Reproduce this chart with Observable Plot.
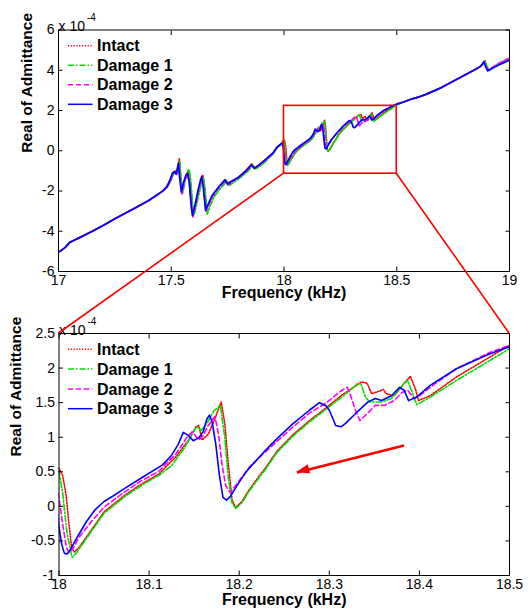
<!DOCTYPE html>
<html><head><meta charset="utf-8">
<script src="https://cdn.jsdelivr.net/npm/d3@7"></script>
<script src="https://cdn.jsdelivr.net/npm/@observablehq/plot@0.6"></script>
<style>
html,body{margin:0;padding:0;background:#fff;}
#wrap{position:relative;width:531px;height:610px;font-family:"Liberation Sans",Arial,sans-serif;}
#wrap svg{position:absolute;left:0;overflow:visible;}
</style></head><body><div id="wrap"></div>
<script>
// ---------- data (frequency kHz, real admittance x1e-4) ----------
const seriesNames = ["Intact", "Damage 1", "Damage 2", "Damage 3"];
const xTicksTop = [17, 17.5, 18, 18.5, 19];
const yTicksTop = [-6, -4, -2, 0, 2, 4, 6];
const xTicksBottom = [18, 18.1, 18.2, 18.3, 18.4, 18.5];
const yTicksBottom = [-1, -0.5, 0, 0.5, 1, 1.5, 2, 2.5];

// shared smooth parts
const lowF = [17.0, 17.03, 17.05, 17.06, 17.1, 17.15, 17.2, 17.25, 17.3, 17.35, 17.4, 17.43, 17.46];
const lowV = [-5.05, -4.8, -4.55, -4.5, -4.28, -4.0, -3.7, -3.38, -3.08, -2.78, -2.47, -2.25, -2.02];
const highF = [18.53, 18.56, 18.6, 18.63, 18.65, 18.7, 18.75, 18.8, 18.85, 18.87];
const highV = [2.42, 2.55, 2.68, 2.8, 2.9, 3.15, 3.45, 3.75, 4.05, 4.18];

const intactMid = [[17.48,-1.8],[17.495,-1.45],[17.507,-1.1],[17.517,-1.0],[17.524,-1.12],[17.536,-0.4],[17.541,-1.2],[17.548,-2.0],[17.558,-1.5],[17.57,-1.15],[17.576,-1.05],[17.584,-1.6],[17.592,-2.7],[17.598,-3.15],[17.61,-2.6],[17.625,-1.8],[17.635,-1.3],[17.64,-1.2],[17.647,-1.8],[17.656,-2.9],[17.666,-2.65],[17.684,-2.2],[17.7,-1.95],[17.72,-1.68],[17.74,-1.42],[17.752,-1.6],[17.77,-1.5],[17.8,-1.3],[17.83,-1.0],[17.857,-0.65],[17.87,-0.85],[17.89,-0.7],[17.92,-0.43],[17.95,-0.13],[17.97,0.17],[17.985,0.3],
 [17.999,0.55],[18.0,0.55],[18.004,0.45],[18.008,0.15],[18.011,-0.25],[18.014,-0.6],[18.017,-0.66],[18.022,-0.6],[18.036,-0.34],[18.05,-0.08],[18.073,0.16],[18.09,0.31],[18.111,0.47],[18.13,0.72],[18.145,0.98],[18.152,1.15],[18.155,1.17],[18.159,0.96],[18.166,1.05],[18.174,1.3],[18.18,1.51],[18.184,1.2],[18.188,0.6],[18.192,0.1],[18.196,-0.02],[18.203,0.07],[18.21,0.22],[18.22,0.4],[18.23,0.57],[18.242,0.8],[18.26,1.04],[18.278,1.24],[18.296,1.42],[18.314,1.61],[18.336,1.8],[18.342,1.78],[18.347,1.63],[18.354,1.66],[18.36,1.69],[18.363,1.63],[18.372,1.6],[18.383,1.78],[18.39,1.88],[18.396,1.68],[18.399,1.53],[18.412,1.6],[18.441,1.87],[18.477,2.15],[18.5,2.33]];
const intactEnd = [[18.88,4.3],[18.89,4.46],[18.897,4.22],[18.907,3.98],[18.922,4.1],[18.95,4.3],[18.98,4.48],[19.0,4.56]];

const damage1Mid = [[17.48,-1.85],[17.498,-1.5],[17.51,-1.15],[17.52,-1.05],[17.527,-1.18],[17.538,-0.55],[17.543,-1.3],[17.551,-2.1],[17.562,-1.5],[17.574,-1.0],[17.579,-0.92],[17.587,-1.5],[17.595,-2.7],[17.601,-3.2],[17.612,-2.7],[17.628,-1.9],[17.638,-1.45],[17.643,-1.38],[17.65,-1.9],[17.66,-3.15],[17.67,-2.8],[17.69,-2.3],[17.71,-1.98],[17.73,-1.72],[17.746,-1.5],[17.758,-1.72],[17.78,-1.55],[17.81,-1.3],[17.84,-1.02],[17.862,-0.72],[17.875,-0.9],[17.9,-0.72],[17.93,-0.4],[17.955,-0.12],[17.97,0.15],[17.985,0.28],
 [17.998,0.5],[18.0,0.5],[18.004,0.2],[18.009,-0.4],[18.0145,-0.74],[18.02,-0.66],[18.036,-0.36],[18.05,-0.1],[18.073,0.14],[18.09,0.29],[18.111,0.45],[18.125,0.59],[18.14,0.86],[18.149,1.08],[18.153,1.15],[18.158,1.1],[18.165,1.22],[18.172,1.38],[18.179,1.46],[18.184,1.0],[18.188,0.4],[18.192,0.05],[18.196,-0.03],[18.203,0.05],[18.21,0.2],[18.22,0.38],[18.23,0.55],[18.242,0.78],[18.26,1.02],[18.278,1.22],[18.296,1.4],[18.314,1.58],[18.331,1.77],[18.335,1.78],[18.34,1.58],[18.345,1.51],[18.358,1.51],[18.369,1.56],[18.383,1.78],[18.387,1.82],[18.394,1.58],[18.397,1.47],[18.412,1.58],[18.441,1.82],[18.477,2.1],[18.5,2.28]];
const damage1End = [[18.882,4.3],[18.892,4.48],[18.899,4.25],[18.909,3.98],[18.925,4.1],[18.95,4.3],[18.98,4.48],[19.0,4.58]];

const damage2Mid = [[17.48,-1.85],[17.497,-1.5],[17.507,-1.15],[17.517,-1.08],[17.524,-1.18],[17.534,-0.7],[17.539,-1.4],[17.547,-2.15],[17.557,-1.6],[17.567,-1.25],[17.574,-1.18],[17.582,-1.7],[17.59,-2.8],[17.596,-3.28],[17.607,-2.75],[17.622,-1.95],[17.632,-1.5],[17.637,-1.4],[17.644,-1.9],[17.654,-3.0],[17.664,-2.75],[17.682,-2.3],[17.7,-2.0],[17.72,-1.72],[17.74,-1.5],[17.752,-1.7],[17.77,-1.55],[17.8,-1.33],[17.83,-1.05],[17.857,-0.73],[17.87,-0.9],[17.89,-0.72],[17.92,-0.45],[17.95,-0.15],[17.97,0.18],[17.985,0.3],
 [17.995,0.42],[17.998,0.3],[18.0,0.12],[18.004,-0.25],[18.008,-0.58],[18.011,-0.67],[18.016,-0.6],[18.022,-0.45],[18.036,-0.22],[18.05,-0.01],[18.073,0.21],[18.09,0.36],[18.111,0.51],[18.13,0.76],[18.142,1.0],[18.148,1.08],[18.155,0.96],[18.16,1.02],[18.165,1.16],[18.173,1.3],[18.177,1.05],[18.181,0.6],[18.185,0.3],[18.19,0.2],[18.196,0.3],[18.212,0.58],[18.23,0.8],[18.242,0.94],[18.26,1.15],[18.278,1.35],[18.296,1.49],[18.314,1.68],[18.32,1.72],[18.323,1.63],[18.329,1.39],[18.334,1.24],[18.342,1.34],[18.351,1.46],[18.361,1.46],[18.372,1.53],[18.381,1.65],[18.387,1.68],[18.394,1.56],[18.401,1.61],[18.416,1.76],[18.441,1.99],[18.477,2.22],[18.5,2.33]];
const damage2End = [[18.88,4.3],[18.888,4.44],[18.895,4.22],[18.905,4.0],[18.92,4.12],[18.95,4.32],[18.98,4.5],[19.0,4.6]];

const damage3Mid = [[17.48,-1.8],[17.495,-1.45],[17.505,-1.12],[17.515,-1.05],[17.522,-1.15],[17.532,-0.62],[17.537,-1.3],[17.545,-2.05],[17.555,-1.55],[17.565,-1.2],[17.572,-1.12],[17.58,-1.6],[17.588,-2.7],[17.594,-3.22],[17.605,-2.7],[17.62,-1.9],[17.63,-1.45],[17.635,-1.3],[17.642,-1.8],[17.652,-2.95],[17.662,-2.7],[17.68,-2.25],[17.7,-1.95],[17.72,-1.68],[17.738,-1.45],[17.75,-1.65],[17.77,-1.5],[17.8,-1.3],[17.83,-1.02],[17.855,-0.7],[17.868,-0.87],[17.89,-0.7],[17.92,-0.42],[17.95,-0.12],[17.97,0.2],[17.985,0.33],[17.992,0.38],[17.997,0.1],
 [18.0,-0.3],[18.003,-0.55],[18.006,-0.68],[18.009,-0.69],[18.013,-0.62],[18.02,-0.45],[18.03,-0.23],[18.04,-0.05],[18.05,0.07],[18.06,0.15],[18.073,0.26],[18.09,0.4],[18.105,0.52],[18.115,0.6],[18.125,0.74],[18.132,0.89],[18.138,1.07],[18.143,1.03],[18.149,0.95],[18.155,0.99],[18.16,1.08],[18.164,1.26],[18.167,1.32],[18.17,1.22],[18.174,0.9],[18.178,0.45],[18.182,0.13],[18.186,0.09],[18.19,0.14],[18.2,0.35],[18.209,0.52],[18.227,0.78],[18.242,0.98],[18.26,1.2],[18.278,1.39],[18.289,1.5],[18.296,1.46],[18.3,1.39],[18.304,1.27],[18.307,1.17],[18.313,1.15],[18.318,1.2],[18.329,1.34],[18.343,1.51],[18.351,1.56],[18.358,1.53],[18.369,1.6],[18.378,1.72],[18.383,1.68],[18.388,1.53],[18.397,1.58],[18.412,1.75],[18.441,1.99],[18.477,2.2],[18.5,2.31]];
const damage3End = [[18.878,4.28],[18.886,4.42],[18.893,4.2],[18.903,3.97],[18.92,4.08],[18.95,4.25],[18.98,4.4],[19.0,4.5]];

// zoom window drawn on the upper chart
const zoomBox = {x1: 18, x2: 18.5, y1: -1.14, y2: 2.23};
// arrow annotation in the lower chart
const arrowSpec = {x1: 18.383, y1: 0.88, x2: 18.264, y2: 0.49};

// ---------- build ----------
const mids = [intactMid, damage1Mid, damage2Mid, damage3Mid];
const ends = [intactEnd, damage1End, damage2End, damage3End];
const colors = ["#ff0000", "#00dd00", "#ff00ff", "#0000ff"];
const dashes = ["1.2,1.6", "6,2,1.5,2", "5,3", null];

const rows = [];
seriesNames.forEach((name, i) => {
  lowF.forEach((f, j) => rows.push({series: name, f, v: lowV[j]}));
  mids[i].forEach(([f, v]) => rows.push({series: name, f, v}));
  highF.forEach((f, j) => rows.push({series: name, f, v: highV[j]}));
  ends[i].forEach(([f, v]) => rows.push({series: name, f, v}));
});

const FONT = '"Liberation Sans", Arial, Helvetica, sans-serif';
const fmt = d => String(d);
const TS = -4.5, TP = 8.5;

function seriesMarks(data, sw) {
  return seriesNames.map((name, i) => Plot.line(data.filter(d => d.series === name), {
    x: "f", y: "v", stroke: colors[i], strokeWidth: sw,
    strokeDasharray: dashes[i] || undefined, clip: true
  }));
}
function axes(xt, yt) {
  return [
    Plot.axisX(xt, {anchor: "bottom", tickSize: TS, tickPadding: TP, tickFormat: fmt, label: null, fontSize: 14}),
    Plot.axisX(xt, {anchor: "top", tickSize: TS, tickFormat: () => "", label: null}),
    Plot.axisY(yt, {anchor: "left", tickSize: TS, tickPadding: TP, tickFormat: fmt, label: null, fontSize: 14}),
    Plot.axisY(yt, {anchor: "right", tickSize: TS, tickFormat: () => "", label: null})
  ];
}
function labels(dxY, dyX) {
  return [
    Plot.text(["Frequency (kHz)"], {frameAnchor: "bottom", dy: dyX, fontWeight: "bold", fontSize: 16, fill: "#000"}),
    Plot.text(["Real of Admittance"], {frameAnchor: "left", dx: dxY, dy: 2, rotate: -90, fontWeight: "bold", fontSize: 15.5, fill: "#000"}),
    Plot.text(["x 10"], {frameAnchor: "top-left", textAnchor: "start", dy: -8.5, fontSize: 14, fill: "#000"}),
    Plot.text(["-4"], {frameAnchor: "top-left", textAnchor: "start", dx: 28.5, dy: -16, fontSize: 10, fill: "#000"})
  ];
}

const topPlot = Plot.plot({
  width: 531, height: 300,
  marginLeft: 58, marginRight: 22, marginTop: 29.5, marginBottom: 29,
  x: {domain: [17, 19]},
  y: {domain: [-6, 6]},
  style: {fontFamily: FONT, fontSize: "14px", background: "transparent", overflow: "visible", color: "#000"},
  marks: [
    ...seriesMarks(rows, 1.7),
    Plot.rect([zoomBox], {x1: "x1", x2: "x2", y1: "y1", y2: "y2", fill: "none", stroke: "#ff0000", strokeWidth: 1.6}),
    Plot.frame({stroke: "#000", strokeWidth: 1}),
    ...axes(xTicksTop, yTicksTop),
    ...labels(-31, 26)
  ]
});

const botRows = rows.filter(d => d.f >= 17.99 && d.f <= 18.51);
const botPlot = Plot.plot({
  width: 531, height: 310,
  marginLeft: 58.5, marginRight: 22, marginTop: 33, marginBottom: 35,
  x: {domain: [18, 18.5]},
  y: {domain: [-1, 2.5]},
  style: {fontFamily: FONT, fontSize: "14px", background: "transparent", overflow: "visible", color: "#000"},
  marks: [
    ...seriesMarks(botRows, 1.6),
    Plot.link([arrowSpec], {x1: "x1", y1: "y1", x2: "x2", y2: "y2", stroke: "#ff0000", strokeWidth: 2.5}),
    Plot.frame({stroke: "#000", strokeWidth: 1}),
    ...axes(xTicksBottom, yTicksBottom),
    ...labels(-42.5, 29)
  ]
});

const wrap = document.getElementById("wrap");
topPlot.style.top = "0px";
botPlot.style.top = "300px";
wrap.appendChild(topPlot);
wrap.appendChild(botPlot);

// legends inside each axes
function addLegend(svg, firstY, step) {
  const g = d3.select(svg).append("g");
  seriesNames.forEach((name, i) => {
    const y = firstY + i * step;
    const ln = g.append("line").attr("x1", 68).attr("x2", 92.5).attr("y1", y).attr("y2", y)
      .attr("stroke", colors[i]).attr("stroke-width", 1.5);
    if (dashes[i]) ln.attr("stroke-dasharray", dashes[i]);
    g.append("text").attr("x", 97).attr("y", y).attr("dy", "0.35em")
      .attr("font-family", FONT).attr("font-weight", "bold").attr("font-size", 16)
      .attr("fill", "#000").attr("text-anchor", "start").text(name);
  });
}
addLegend(topPlot, 45.8, 19.5);
addLegend(botPlot, 49.3, 19.8);

// filled arrow head at the tip of the annotation arrow (positions from the plot's scales)
const bx = botPlot.scale("x"), by = botPlot.scale("y");
{
  const x1 = bx.apply(arrowSpec.x1), y1 = by.apply(arrowSpec.y1);
  const x2 = bx.apply(arrowSpec.x2), y2 = by.apply(arrowSpec.y2);
  const a = Math.atan2(y2 - y1, x2 - x1), L = 13, W = 4.8;
  const bxp = x2 - L * Math.cos(a), byp = y2 - L * Math.sin(a);
  const px = -Math.sin(a) * W, py = Math.cos(a) * W;
  d3.select(botPlot).append("polygon")
    .attr("points", `${x2},${y2} ${bxp + px},${byp + py} ${bxp - px},${byp - py}`)
    .attr("fill", "#ff0000");
}

// connector lines between the zoom box and the lower axes
const tx = topPlot.scale("x"), ty = topPlot.scale("y");
const over = d3.create("svg").attr("width", 531).attr("height", 610)
  .style("position", "absolute").style("top", "0px").style("left", "0px").style("pointer-events", "none");
const segs = [
  [tx.apply(zoomBox.x1), ty.apply(zoomBox.y1), bx.apply(18), by.apply(2.5) + 300],
  [tx.apply(zoomBox.x2), ty.apply(zoomBox.y1), bx.apply(18.5), by.apply(2.5) + 300]
];
segs.forEach(s => over.append("line").attr("x1", s[0]).attr("y1", s[1]).attr("x2", s[2]).attr("y2", s[3])
  .attr("stroke", "#ff0000").attr("stroke-width", 1.6));
wrap.appendChild(over.node());
</script></body></html>
